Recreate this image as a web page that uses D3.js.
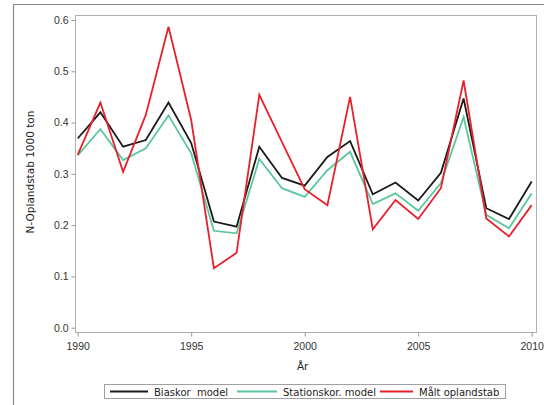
<!DOCTYPE html>
<html><head><meta charset="utf-8">
<script src="https://cdn.jsdelivr.net/npm/d3@7"></script>
<style>
body{margin:0;background:#fff;}
svg{display:block;font-family:"DejaVu Sans",Arial,sans-serif;}
</style></head>
<body><svg id="c" width="544" height="405"></svg>
<script>
const years = [1990,1991,1992,1993,1994,1995,1996,1997,1998,1999,2000,2001,2002,2003,2004,2005,2006,2007,2008,2009,2010];
const biaskor = [0.369,0.420,0.353,0.366,0.439,0.360,0.207,0.197,0.353,0.292,0.277,0.333,0.364,0.260,0.283,0.248,0.302,0.447,0.233,0.212,0.285];
const stationskor = [0.336,0.387,0.327,0.350,0.414,0.340,0.189,0.184,0.329,0.272,0.255,0.307,0.343,0.241,0.262,0.228,0.282,0.411,0.220,0.194,0.262];
const maalt = [0.337,0.439,0.304,0.415,0.587,0.405,0.116,0.146,0.454,0.362,0.270,0.239,0.450,0.192,0.249,0.212,0.272,0.482,0.213,0.178,0.239];
const seriesNames = ["Biaskor  model","Stationskor. model","Målt oplandstab"];
const seriesColors = ["#1a1a1a","#5cc79e","#e8202e"];
const xTicks = [1990,1995,2000,2005,2010];
const yTicks = [0.0,0.1,0.2,0.3,0.4,0.5,0.6];
const xTitle = "År";
const yTitle = "N-Oplandstab 1000 ton";

const svg = d3.select("#c");
// outer frame (top & left)
svg.append("path").attr("d","M13.5,405 V4.5 H544").attr("fill","none").attr("stroke","#8a8a8a").attr("stroke-width",1.2);

const x = d3.scaleLinear().domain([1990,2010]).range([77.7,531.7]);
const y = d3.scaleLinear().domain([0,0.6]).range([327.7,20]);

// plot frame
svg.append("rect").attr("x",75.5).attr("y",15.5).attr("width",461).attr("height",317)
  .attr("fill","none").attr("stroke","#b0b0b0").attr("stroke-width",1);

const yAxis = svg.append("g").attr("transform","translate(75.5,0)")
  .call(d3.axisLeft(y).tickValues(yTicks).tickFormat(d3.format(".1f")).tickSize(4).tickPadding(3));
const xAxis = svg.append("g").attr("transform","translate(0,332.5)")
  .call(d3.axisBottom(x).tickValues(xTicks).tickFormat(d3.format("d")).tickSize(4).tickPadding(6));
[yAxis,xAxis].forEach(a=>{
  a.select(".domain").remove();
  a.selectAll("line").attr("stroke","#999");
  a.selectAll("text").attr("fill","#333").attr("font-size",10.5);
});

const line = d3.line().x((d,i)=>x(years[i])).y(d=>y(d));
[biaskor,stationskor,maalt].forEach((s,k)=>{
  svg.append("path").datum(s).attr("d",line).attr("fill","none")
    .attr("stroke",seriesColors[k]).attr("stroke-width",1.8).attr("stroke-linejoin","miter");
});

svg.append("text").attr("x",(77.7+531.7)/2-2).attr("y",370).attr("text-anchor","middle")
  .attr("font-size",10.5).attr("fill","#222").text(xTitle);
svg.append("text").attr("transform","translate(34,172) rotate(-90)").attr("text-anchor","middle")
  .attr("font-size",10.5).attr("fill","#222").text(yTitle);

// legend
svg.append("rect").attr("x",104.5).attr("y",384.5).attr("width",401).attr("height",14)
  .attr("fill","#fff").attr("stroke","#a0a0a0");
const legX = [110,237,380];
const legW = [38,40,33];
seriesNames.forEach((n,k)=>{
  svg.append("line").attr("x1",legX[k]).attr("x2",legX[k]+legW[k]).attr("y1",391.5).attr("y2",391.5)
    .attr("stroke",seriesColors[k]).attr("stroke-width",1.8);
  svg.append("text").attr("x",legX[k]+legW[k]+6).attr("y",395.5).attr("font-size",10)
    .attr("fill","#222").attr("xml:space","preserve").text(n);
});
</script></body></html>
